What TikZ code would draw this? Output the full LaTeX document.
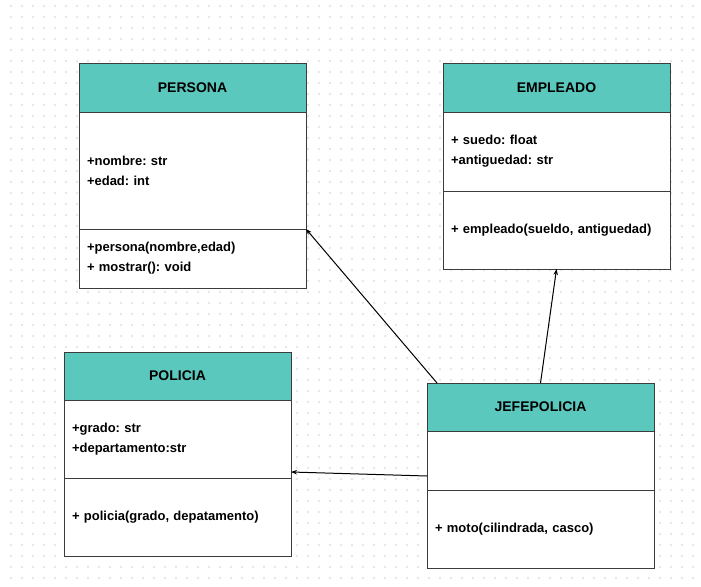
\documentclass[tikz,border=0pt]{standalone}
\usepackage{fontspec}
\setmainfont{Liberation Sans}
\usetikzlibrary{arrows,arrows.meta,positioning,calc}
\definecolor{headteal}{HTML}{5BC8BE}
\definecolor{boxline}{HTML}{3C3C3C}
\definecolor{dotgray}{HTML}{E4E4EA}
\tikzstyle{classhead}=[draw=boxline, fill=headteal, line width=1pt,
                       minimum width=227pt, minimum height=48pt,
                       inner sep=0pt, outer sep=0pt, anchor=north west,
                       font=\bfseries\fontsize{14}{16}\selectfont]
\tikzstyle{classpart}=[draw=boxline, fill=white, line width=1pt,
                       text width=211pt, inner xsep=8pt, inner ysep=0pt,
                       outer sep=0pt, align=left,
                       font=\bfseries\frenchspacing\fontsize{13}{20}\selectfont]
\tikzstyle{assoc} =[-{Stealth[length=6pt,width=4.5pt]}, line width=1pt, black]

\begin{document}
\begin{tikzpicture}[x=1pt, y=-1pt]
        \useasboundingbox (0,0) rectangle (701,586);
        % dotted background
        \foreach \i in {1,...,63}
            \foreach \j in {0,...,53}
                \fill[dotgray] (11*\i, 6+11*\j) circle (1.3pt);

        \node[classhead] (persona) at (79,64) {PERSONA};
        \node[classpart, minimum height=117pt, below=0pt of persona] (personaAttr)
            {+nombre: str\\+edad: int};
        \node[classpart, minimum height=59pt, below=0pt of personaAttr] (personaMeth)
            {+persona(nombre,edad)\\+ mostrar(): void};

        \node[classhead] (empleado) at (443,64) {EMPLEADO};
        \node[classpart, minimum height=79pt, below=0pt of empleado] (empleadoAttr)
            {+ suedo: float\\+antiguedad: str};
        \node[classpart, minimum height=78pt, below=0pt of empleadoAttr] (empleadoMeth)
            {+ empleado(sueldo, antiguedad)};

        \node[classhead] (policia) at (64,352) {POLICIA};
        \node[classpart, minimum height=78pt, below=0pt of policia] (policiaAttr)
            {+grado: str\\+departamento:str};
        \node[classpart, minimum height=78pt, below=0pt of policiaAttr] (policiaMeth)
            {+ policia(grado, depatamento)};

        \node[classhead] (jefe) at (427,383) {JEFEPOLICIA};
        \node[classpart, minimum height=59pt, below=0pt of jefe] (jefeAttr) {};
        \node[classpart, minimum height=78pt, below=0pt of jefeAttr] (jefeMeth)
            {+ moto(cilindrada, casco)};

        \draw[assoc] ([xshift=10pt]jefe.north west) to (personaAttr.south east);
        \draw[assoc] (jefe.north) to (empleadoMeth.south);
        \draw[assoc] ([yshift=14pt]jefeAttr.south west) to ([yshift=6pt]policiaAttr.south east);

\end{tikzpicture}
\end{document}
